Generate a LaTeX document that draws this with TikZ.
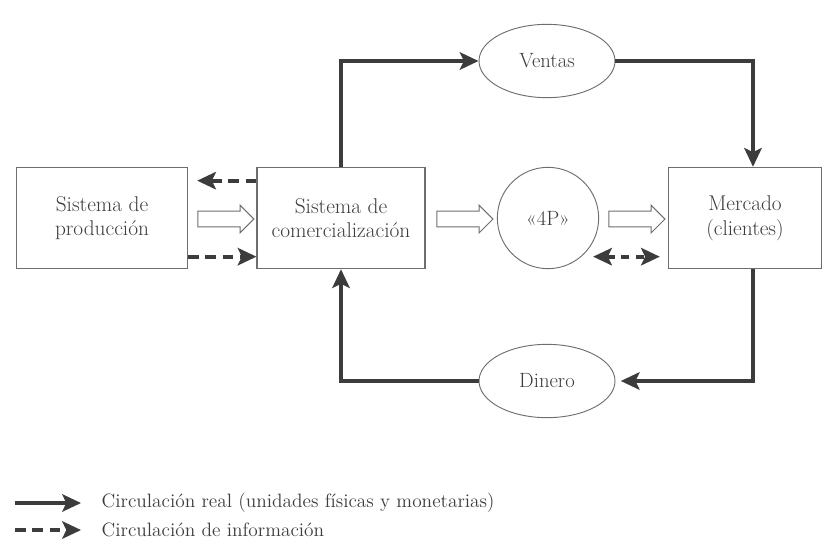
\documentclass[tikz,border=0pt]{standalone}
\usepackage{tikz}
\usetikzlibrary{arrows.meta,shapes,positioning}
\definecolor{ink}{RGB}{60,60,60}
\definecolor{rim}{RGB}{110,110,110}
\tikzstyle{sysbox}=[rectangle,draw=rim,line width=0.8pt,minimum height=76pt,align=center,text=ink,font=\fontsize{16}{18.5}\selectfont]
\tikzstyle{bubble}=[ellipse,draw=rim,line width=0.7pt,minimum width=102pt,minimum height=55pt,inner sep=1pt,text=ink,font=\fontsize{15.5}{18}\selectfont]
\tikzstyle{real}=[draw=ink,line width=3pt,-{Stealth[length=14pt,width=13pt,inset=3pt]}]
\tikzstyle{info}=[draw=ink,line width=3pt,dash pattern=on 8pt off 5pt,-{Stealth[length=14pt,width=13pt,inset=3pt]}]
\tikzstyle{hollow}=[single arrow,draw=rim,line width=0.7pt,fill=white,inner xsep=0pt,inner ysep=5.5pt,minimum width=0pt,minimum height=42pt,single arrow head extend=4.5pt]
\tikzstyle{legtxt}=[anchor=west,text=ink,font=\fontsize{14.5}{17}\selectfont]

\begin{document}
\begin{tikzpicture}[x=0.75pt,y=-0.75pt]
    \useasboundingbox (0,0) rectangle (827,550);

    % main boxes
    \node[sysbox, minimum width=128pt] (prod) at (102,218) {Sistema de\\producción};
    \node[sysbox, minimum width=126pt] (com) at (341,218) {Sistema de\\comercialización};
    \node[circle, draw=rim, line width=0.7pt, minimum size=76pt, inner sep=1pt, text=ink, font=\fontsize{15.5}{18}\selectfont] (p4) at (548,218) {«4P»};
    \node[sysbox, minimum width=115pt] (merc) at (745,218) {Mercado\\(clientes)};
    \node[bubble] (ventas) at (547,61) {Ventas};
    \node[bubble] (dinero) at (547,381) {Dinero};

    % hollow arrows
    \foreach \x/\name in {222/h1, 461/h2, 633/h3}
        \node[hollow] (\name) at (\x,219) {};

    % real flow
    \draw[real] (com.north) |- (ventas.west);
    \draw[real] (ventas.east) -| ([xshift=6pt]merc.north);
    \draw[real] ([xshift=6pt]merc.south) |- ([xshift=4pt]dinero.east);
    \draw[real] (dinero.west) -| (com.south);

    % information flow
    \draw[info, shorten >=7pt] ([yshift=28pt]com.west) -- ([yshift=28pt]prod.east);
    \draw[info] ([yshift=-29pt]prod.east) -- ([yshift=-29pt]com.west);
    \draw[info, dash pattern=on 6pt off 5pt, {Stealth[length=14pt,width=13pt,inset=3pt]}-{Stealth[length=14pt,width=13pt,inset=3pt]}, shorten <=-4.5pt, shorten >=6pt] ([yshift=-29pt]merc.west -| p4.east) -- ([yshift=-29pt]merc.west);

    % legend
    \node[legtxt] (lreal) at (97,503) {Circulación real (unidades físicas y monetarias)};
    \node[legtxt] (linfo) at (97,530) {Circulación de información};
    \coordinate (lreal0) at (15,503);
    \coordinate (linfo0) at (15,530);
    \draw[real] (lreal0) -- ([xshift=-12pt]lreal.west);
    \draw[info] (linfo0) -- ([xshift=-12pt]linfo.west);

\end{tikzpicture}
\end{document}
